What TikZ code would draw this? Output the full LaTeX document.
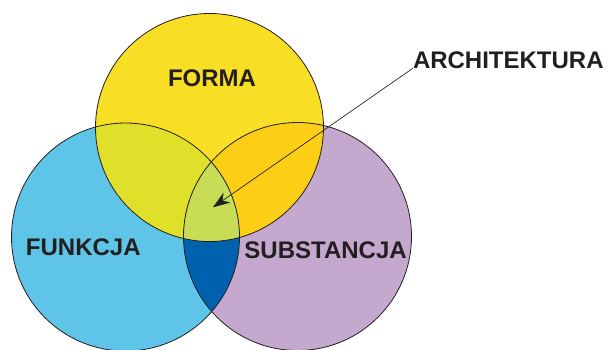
\documentclass[tikz,border=0pt]{standalone}
\usepackage{fontspec}
\setmainfont{Liberation Sans}
\usetikzlibrary{arrows.meta,positioning}
\definecolor{forma}{HTML}{F8DF26}
\definecolor{funkcja}{HTML}{5EC5E8}
\definecolor{substancja}{HTML}{C4A8CE}
\definecolor{formafunkcja}{HTML}{E0E02A}
\definecolor{formasubst}{HTML}{FCCF16}
\definecolor{funkcjasubst}{HTML}{0062AF}
\definecolor{architektura}{HTML}{C8DC55}
\definecolor{ink}{HTML}{231F20}
\begin{document}
\begin{tikzpicture}[x=1pt,y=1pt]
				% Styles for the labels, the circle rims and the arrow
				\tikzset{label/.style={font=\fontsize{24}{29}\selectfont\bfseries,text=ink,inner sep=0pt},
					rim/.style={draw=ink,line width=0.8pt},
					pointer/.style={line width=0.6pt,draw=ink,fill=ink,-{Stealth[length=17pt,width=12pt]}},
				}
				\useasboundingbox (0,0) rectangle (608,349);
				% Centres of the three circles
				\coordinate (f) at (209.5,221.5);
				\coordinate (u) at (125.5,112);
				\coordinate (s) at (297.5,112.5);
				\def\rad{114}
				% First the plain fills
				\fill[funkcja] (u) circle[radius=\rad];
				\fill[substancja] (s) circle[radius=\rad];
				\fill[forma] (f) circle[radius=\rad];
				% The overlaps are filled by clipping one circle with another
				\begin{scope}
					\clip (f) circle[radius=\rad];
					\fill[formafunkcja] (u) circle[radius=\rad];
					\fill[formasubst] (s) circle[radius=\rad];
				\end{scope}
				\begin{scope}
					\clip (u) circle[radius=\rad];
					\fill[funkcjasubst] (s) circle[radius=\rad];
					\clip (s) circle[radius=\rad];
					\fill[architektura] (f) circle[radius=\rad];
				\end{scope}
				% Outlines on top
				\draw[rim] (u) circle[radius=\rad];
				\draw[rim] (s) circle[radius=\rad];
				\draw[rim] (f) circle[radius=\rad];
				% Labels
				\node[label] (forma) at (212,270.7) {FORMA};
				\node[label] (funkcja) at (83.3,101.7) {FUNKCJA};
				\node[label] (substancja) at (325.6,98.3) {SUBSTANCJA};
				\node[label,anchor=base west] (arch) at (412.8,280.7) {ARCHITEKTURA};
				% The arrow ends in the middle of the three overlaps
				\coordinate (tip) at (213,141.7);
				\draw[pointer] (arch.base west) -- (tip);
\end{tikzpicture}
\end{document}
